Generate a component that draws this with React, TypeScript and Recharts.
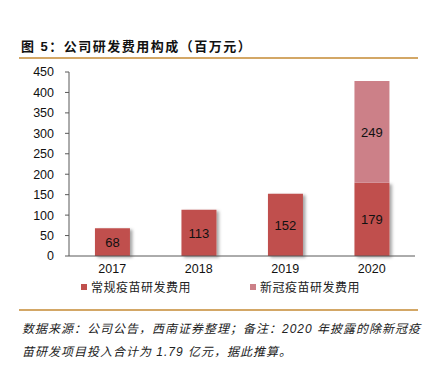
import { Bar, BarChart, LabelList, Legend, XAxis, YAxis } from "recharts";

const years = ["2017", "2018", "2019", "2020"];
const regularRd = [68, 113, 152, 179];
const covidRd = [null, null, null, 249];
const yTicks = [0, 50, 100, 150, 200, 250, 300, 350, 400, 450];

const seriesNames = ["常规疫苗研发费用", "新冠疫苗研发费用"];
const colors = ["#C0504D", "#CC8088"];

const data = years.map((y, i) => ({
  year: y,
  regular: regularRd[i],
  covid: covidRd[i],
}));

const latin = '"Liberation Sans", Arial, "Noto Sans CJK SC", sans-serif';
const cjk = '"Liberation Sans", "Noto Sans CJK SC", sans-serif';

const hideEmpty = (v: unknown) => (v == null || v === 0 ? "" : String(v));

function LegendBox() {
  const xs = [81, 250];
  return (
    <div style={{ position: "relative", width: 426, height: 20 }}>
      {seriesNames.map((n, i) => (
        <div
          key={n}
          style={{
            position: "absolute",
            left: xs[i],
            top: 2,
            display: "flex",
            alignItems: "center",
            fontFamily: cjk,
            fontSize: 12,
            letterSpacing: 0.5,
            color: "#222",
          }}
        >
          <span
            style={{
              display: "inline-block",
              width: 6,
              height: 6,
              background: colors[i],
              marginRight: 4,
            }}
          />
          {n}
        </div>
      ))}
    </div>
  );
}

export default function App() {
  return (
    <div
      style={{
        position: "absolute",
        left: 0,
        top: 0,
        width: 426,
        height: 365,
        background: "#fff",
        fontFamily: cjk,
      }}
    >
      <svg width="0" height="0" style={{ position: "absolute" }}>
        <defs>
          <filter id="barShadow" x="-20%" y="-10%" width="150%" height="130%">
            <feDropShadow dx="2.5" dy="1.5" stdDeviation="1.5" floodColor="#000" floodOpacity="0.35" />
          </filter>
        </defs>
      </svg>
      <div
        style={{
          position: "absolute",
          left: 21,
          top: 36,
          fontSize: 13,
          fontWeight: "bold",
          letterSpacing: 1.5,
          color: "#111",
          whiteSpace: "nowrap",
        }}
      >
        图 5：公司研发费用构成（百万元）
      </div>
      <div style={{ position: "absolute", left: 19, top: 57, width: 399, height: 2, background: "#D3A766" }} />

      <div style={{ position: "absolute", left: 0, top: 60 }}>
        <BarChart
          width={426}
          height={236}
          data={data}
          margin={{ top: 12, right: 11, left: 0, bottom: 0 }}
          barCategoryGap="30%"
        >
          <XAxis
            dataKey="year"
            height={20}
            tickLine={false}
            tickSize={0}
            tickMargin={8}
            stroke="#595959"
            tick={{ fontSize: 12.5, fill: "#111", fontFamily: latin }}
          />
          <YAxis
            width={69}
            domain={[0, 450]}
            ticks={yTicks}
            interval={0}
            tickSize={4}
            tickMargin={11}
            stroke="#595959"
            tick={{ fontSize: 12.5, fill: "#111", fontFamily: latin }}
          />
          <Legend
            verticalAlign="bottom"
            wrapperStyle={{ left: 0, width: 426 }}
            content={() => <LegendBox />}
          />
          <Bar
            dataKey="regular"
            stackId="a"
            name={seriesNames[0]}
            fill={colors[0]}
            isAnimationActive={false}
            style={{ filter: "url(#barShadow)" }}
          >
            <LabelList
              dataKey="regular"
              position="center"
              formatter={hideEmpty}
              style={{ fontSize: 13, fill: "#111", fontFamily: latin }}
            />
          </Bar>
          <Bar
            dataKey="covid"
            stackId="a"
            name={seriesNames[1]}
            fill={colors[1]}
            isAnimationActive={false}
          >
            <LabelList
              dataKey="covid"
              position="center"
              formatter={hideEmpty}
              style={{ fontSize: 13, fill: "#111", fontFamily: latin }}
            />
          </Bar>
        </BarChart>
      </div>

      <div style={{ position: "absolute", left: 19, top: 309, width: 399, height: 2, background: "#D3A766" }} />
      <div
        style={{
          position: "absolute",
          left: 22,
          top: 318,
          width: 404,
          fontSize: 12,
          letterSpacing: 1,
          fontStyle: "italic",
          lineHeight: "23px",
          color: "#222",
        }}
      >
        <div style={{ whiteSpace: "nowrap" }}>数据来源：公司公告，西南证券整理；备注：2020 年披露的除新冠疫</div>
        <div style={{ whiteSpace: "nowrap" }}>苗研发项目投入合计为 1.79 亿元，据此推算。</div>
      </div>
    </div>
  );
}
